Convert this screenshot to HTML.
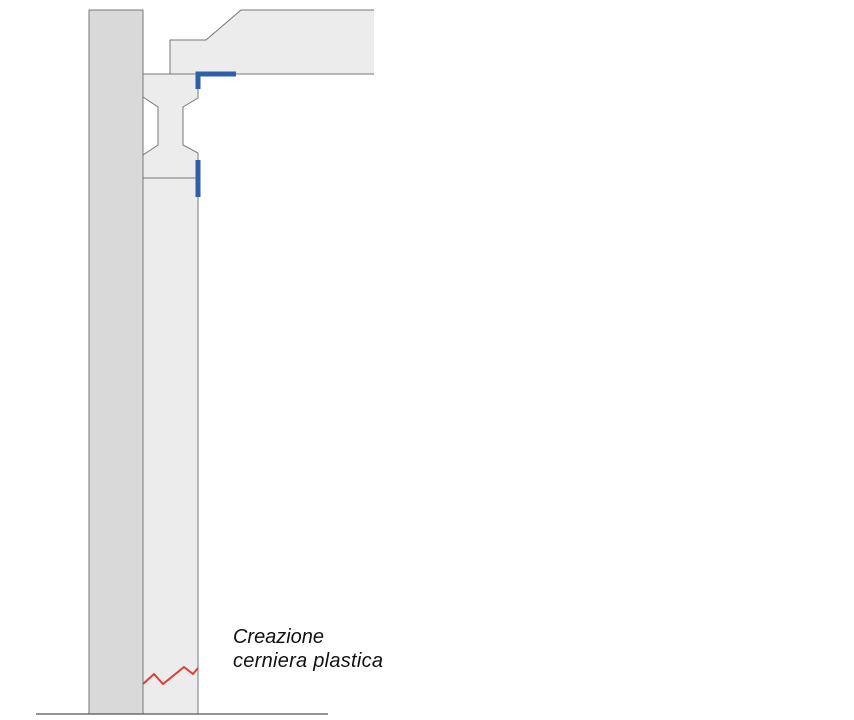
<!DOCTYPE html>
<html><head><style>body{margin:0;background:#fff}svg{display:block}</style></head>
<body>
<svg width="854" height="720" xmlns="http://www.w3.org/2000/svg">
<rect x="89" y="10" width="54" height="704" fill="#d9d9d9" stroke="#777" stroke-width="1"/>
<path d="M143 178 H198 V714 H143 Z" fill="#ececec" stroke="#777" stroke-width="1"/>
<path d="M143 74 H198 V98 L183 107 V145 L198 153 V178 H143 V155 L158 145 V107 L143 97 Z" fill="#ececec" stroke="#777" stroke-width="1"/>
<rect x="170" y="40" width="204" height="34" fill="#ececec"/>
<path d="M206 40 L241 10 H374 V40 Z" fill="#ececec"/>
<path d="M170 74 V40 H206 L241 10 H374 M374 74 H143" fill="none" stroke="#777" stroke-width="1"/>
<path d="M198 89 V74 H236" fill="none" stroke="#2f5fa8" stroke-width="5"/>
<path d="M198 160 V197" fill="none" stroke="#2f5fa8" stroke-width="5"/>
<polyline points="143,684 154,674 163,684 184,667 193,674 198,668" fill="none" stroke="#d9403a" stroke-width="2"/>
<line x1="36" y1="714" x2="328" y2="714" stroke="#555" stroke-width="1.2"/>
<text x="233" y="643" font-family="Liberation Sans, sans-serif" font-style="italic" font-size="20" textLength="91" fill="#111">Creazione</text>
<text x="233" y="667" font-family="Liberation Sans, sans-serif" font-style="italic" font-size="20" textLength="150" fill="#111">cerniera plastica</text>
</svg>
</body></html>
